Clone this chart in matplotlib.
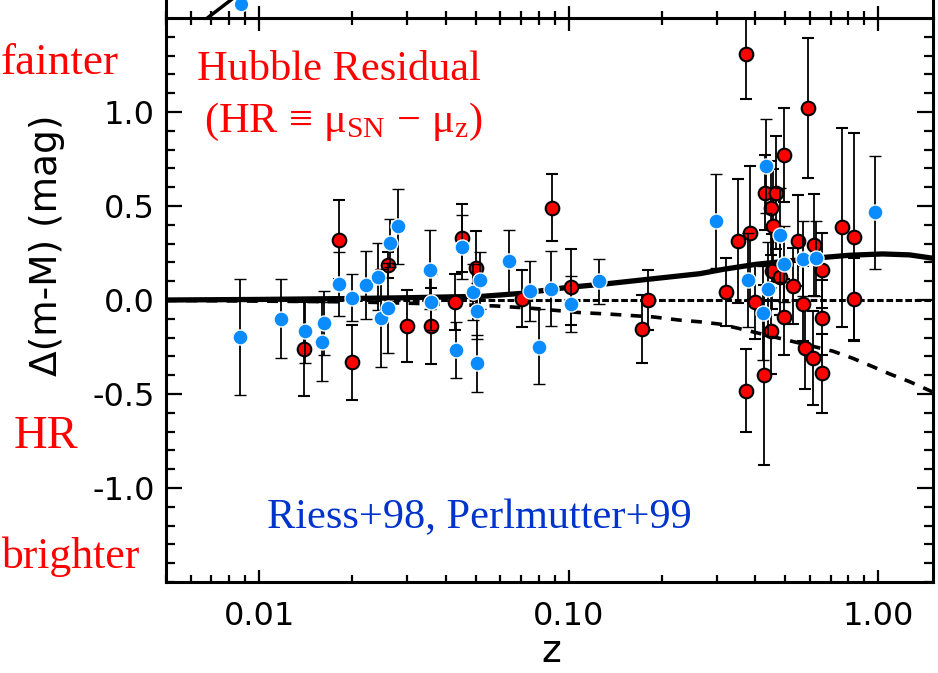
import numpy as np
import matplotlib
matplotlib.use('Agg')
import matplotlib.pyplot as plt
from matplotlib.ticker import LogLocator, MultipleLocator, NullFormatter

# supernovae, red sample (redshift, residual, error)
red_z = [0.0140, 0.0181, 0.0200, 0.0261, 0.0300, 0.0358, 0.0430, 0.0451, 0.0501, 0.0704,
         0.0884, 0.1014, 0.172, 0.180, 0.321, 0.353, 0.374, 0.374, 0.384, 0.398,
         0.426, 0.429, 0.451, 0.451, 0.454, 0.468, 0.456, 0.480, 0.495, 0.497,
         0.530, 0.550, 0.570, 0.578, 0.592, 0.614, 0.617, 0.657, 0.657, 0.657,
         0.764, 0.831, 0.831]
red_dm = [-0.263, 0.321, -0.332, 0.187, -0.138, -0.138, -0.010, 0.328, 0.169, 0.007,
          0.492, 0.069, -0.155, 0.002, 0.042, 0.316, 1.307, -0.483, 0.354, -0.010,
          -0.399, 0.571, 0.487, -0.166, 0.152, 0.571, 0.395, 0.122, -0.090, 0.771,
          0.074, 0.316, -0.020, -0.254, 1.021, -0.307, 0.293, 0.157, -0.095, -0.390,
          0.386, 0.337, 0.004]
red_err = [0.25, 0.21, 0.20, 0.07, 0.19, 0.20, 0.15, 0.18, 0.20, 0.15,
           0.18, 0.20, 0.18, 0.16, 0.18, 0.33, 0.24, 0.22, 0.36, 0.20,
           0.48, 0.20, 0.25, 0.23, 0.20, 0.30, 0.30, 0.20, 0.20, 0.25,
           0.20, 0.24, 0.20, 0.22, 0.37, 0.25, 0.27, 0.20, 0.20, 0.21,
           0.53, 0.55, 0.22]

# supernovae, blue sample
blue_z = [0.00869, 0.01178, 0.01407, 0.01614, 0.0160, 0.01813, 0.0200, 0.0221, 0.0242, 0.0247,
          0.0261, 0.0264, 0.0281, 0.0355, 0.0358, 0.0431, 0.0451, 0.0489, 0.0516, 0.0504,
          0.0504, 0.0641, 0.0748, 0.0800, 0.0873, 0.1014, 0.125, 0.2997, 0.3793, 0.424,
          0.432, 0.440, 0.480, 0.497, 0.570, 0.627, 0.971]
blue_dm = [-0.196, -0.100, -0.164, -0.120, -0.222, 0.086, 0.012, 0.078, 0.125, -0.094,
           -0.042, 0.303, 0.392, 0.162, -0.011, -0.266, 0.280, 0.042, 0.104, -0.060,
           -0.337, 0.205, 0.046, -0.249, 0.060, -0.020, 0.099, 0.420, 0.104, -0.067,
           0.713, 0.060, 0.348, 0.192, 0.219, 0.222, 0.466]
blue_err = [0.31, 0.21, 0.17, 0.17, 0.21, 0.17, 0.125, 0.18, 0.18, 0.26,
            0.24, 0.13, 0.20, 0.21, 0.15, 0.15, 0.17, 0.15, 0.15, 0.15,
            0.15, 0.17, 0.16, 0.20, 0.20, 0.15, 0.12, 0.25, 0.25, 0.25,
            0.25, 0.25, 0.25, 0.20, 0.20, 0.20, 0.30]

# model curves
lcdm_z = [0.005, 0.01, 0.02, 0.03, 0.053, 0.07, 0.098, 0.132, 0.187, 0.265,
          0.315, 0.403, 0.67, 0.806, 1.03, 1.26, 1.5]
lcdm_dm = [0.0, 0.003, 0.008, 0.012, 0.02, 0.035, 0.066, 0.086, 0.113, 0.14,
           0.163, 0.19, 0.227, 0.238, 0.245, 0.24, 0.222]
eds_z = [0.005, 0.02, 0.04, 0.0585, 0.0788, 0.1085, 0.132, 0.187, 0.228, 0.265,
         0.307, 0.347, 0.712, 0.826, 0.96, 1.086, 1.259, 1.5]
eds_dm = [-0.002, -0.01, -0.022, -0.032, -0.046, -0.067, -0.074, -0.09, -0.107, -0.116,
          -0.128, -0.148, -0.272, -0.31, -0.355, -0.393, -0.434, -0.49]
empty_z = [0.005, 1.5]
empty_dm = [0.0, 0.0]

# bits of the panel above that show at the top edge
top_line_z = [0.0060, 0.0069, 0.0081, 0.0095]
top_line_mu = [32.03, 32.33, 32.66, 33.0]
top_pt_z = [0.00873]
top_pt_mu = [32.58]

xticks = [0.01, 0.1, 1.0]
xticklabels = ['0.01', '0.10', '1.00']
yticks = [-1.0, -0.5, 0.0, 0.5, 1.0]
yticklabels = ['-1.0', '-0.5', '0.0', '0.5', '1.0']

plt.rcParams['mathtext.fontset'] = 'custom'
plt.rcParams['mathtext.rm'] = 'Liberation Serif'
plt.rcParams['mathtext.it'] = 'Liberation Serif:italic'

W, H = 938, 673
fig = plt.figure(figsize=(W / 100, H / 100), dpi=100)

left, right, top, bottom = 166, 933, 18, 582
ax = fig.add_axes([left / W, 1 - bottom / H, (right - left) / W, (bottom - top) / H])
axt = fig.add_axes([left / W, 1 - top / H, (right - left) / W, 300 / H])

blue = '#0A8CFF'

for a in (ax, axt):
    a.set_xscale('log')
    a.set_xlim(0.005, 1.5)
    for s in a.spines.values():
        s.set_linewidth(2.2)

ax.set_ylim(-1.5, 1.5)

ax.plot(empty_z, empty_dm, color='black', lw=2.2, ls=(0, (2.2, 0.9)), zorder=2)
ax.plot(eds_z, eds_dm, color='black', lw=2.6, ls=(0, (3, 2.6)), zorder=2)
ax.plot(lcdm_z, lcdm_dm, color='black', lw=3.8, zorder=2)

ax.errorbar(red_z, red_dm, yerr=red_err, fmt='o', ms=9.8, mfc='red', mec='black', mew=1.5,
            ecolor='black', elinewidth=1.3, capsize=4, capthick=1.3, zorder=3)
ax.errorbar(blue_z, blue_dm, yerr=blue_err, fmt='o', ms=10.8, mfc=blue, mec='white', mew=1.0,
            ecolor='black', elinewidth=1.3, capsize=4, capthick=1.3, zorder=4)

ax.set_xticks(xticks)
ax.set_xticklabels(xticklabels)
ax.xaxis.set_minor_locator(LogLocator(base=10, subs=np.arange(2, 10)))
ax.xaxis.set_minor_formatter(NullFormatter())
ax.set_yticks(yticks)
ax.set_yticklabels(yticklabels)
ax.yaxis.set_minor_locator(MultipleLocator(0.1))

ax.tick_params(axis='both', which='both', direction='in', top=True, right=True,
               width=1.6, labelsize=23, colors='black')
ax.tick_params(axis='x', which='major', length=9, pad=14)
ax.tick_params(axis='x', which='minor', length=5)
ax.tick_params(axis='y', which='major', length=11.5, pad=8)
ax.tick_params(axis='y', which='minor', length=6.5)

# upper panel, mostly outside the picture
axt.set_ylim(32.3, 38.3)
axt.plot(top_line_z, top_line_mu, color='black', lw=2.5)
axt.plot(top_pt_z, top_pt_mu, 'o', ms=10.5, mfc=blue, mec='white', mew=1.0)
axt.set_xticks(xticks)
axt.xaxis.set_minor_locator(LogLocator(base=10, subs=np.arange(2, 10)))
axt.xaxis.set_minor_formatter(NullFormatter())
axt.set_yticks([])
axt.tick_params(axis='x', which='both', direction='in', labelbottom=False, width=1.6)
axt.tick_params(axis='x', which='major', length=9)
axt.tick_params(axis='x', which='minor', length=5)

def px(x, y):
    return x / W, 1 - y / H

fig.text(*px(47, 245), '\u0394(m-M) (mag)', rotation=90, ha='center', va='center',
         fontsize=27, family='DejaVu Sans')
fig.text(*px(551, 652), 'z', ha='center', va='center', fontsize=27, family='DejaVu Sans')

serif = 'Liberation Serif'
fig.text(*px(1, 74), 'fainter', ha='left', va='baseline', fontsize=32.5, color='red', family=serif)
fig.text(*px(45.5, 448), 'HR', ha='center', va='baseline', fontsize=33.5, color='red', family=serif)
fig.text(*px(1, 568), 'brighter', ha='left', va='baseline', fontsize=31.5, color='red', family=serif)
fig.text(*px(197, 80), 'Hubble Residual', ha='left', va='baseline', fontsize=30.5, color='red', family=serif)
fig.text(*px(204, 132), r'(HR$\,\equiv\,\mathrm{\mu}_{\mathrm{SN}}\,-\,\mathrm{\mu}_{\mathrm{z}}$)',
         ha='left', va='baseline', fontsize=30.5, color='red', family=serif)
fig.text(*px(267, 528), 'Riess+98, Perlmutter+99', ha='left', va='baseline', fontsize=30.5,
         color='#0033CC', family=serif)

fig.savefig('out.png', dpi=100)
